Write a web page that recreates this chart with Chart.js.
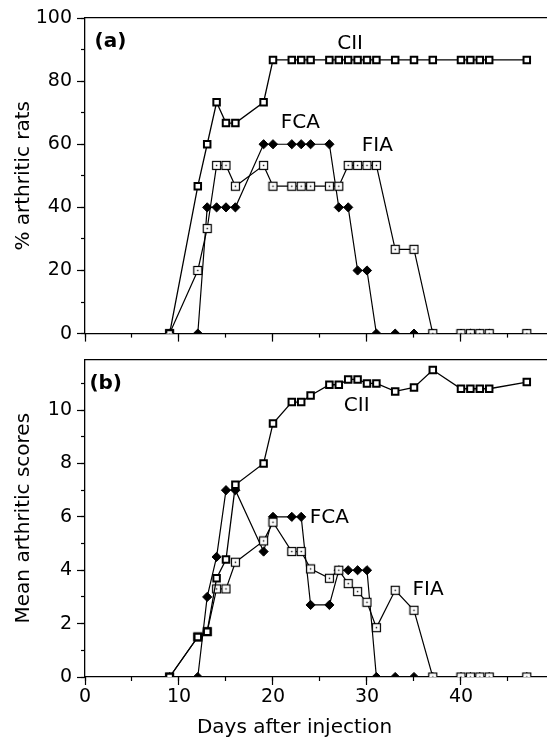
<!DOCTYPE html>
<html>
<head>
<meta charset="utf-8">
<script src="https://cdn.jsdelivr.net/npm/chart.js@4/dist/chart.umd.min.js"></script>
<style>
  html, body { margin: 0; padding: 0; background: #fff; }
  #page { position: relative; width: 547px; height: 738px; overflow: hidden; }
  .panel { position: absolute; left: 0; width: 547px; }
  #panelA { top: 0; height: 350px; }
  #panelB { top: 343px; height: 395px; }
</style>
</head>
<body>
<div id="page">
  <div class="panel" id="panelA"><canvas id="chartA"></canvas></div>
  <div class="panel" id="panelB"><canvas id="chartB"></canvas></div>
</div>
<script>
// sampling days (days after injection)
const DAYS = [9, 12, 13, 14, 15, 16, 19, 20, 22, 23, 24, 26, 27, 28, 29, 30, 31, 33, 35, 37, 40, 41, 42, 43, 47];

// (a) % arthritic rats
const PCT_CII = [0, 46.7, 60, 73.3, 66.7, 66.7, 73.3, 86.7, 86.7, 86.7, 86.7, 86.7, 86.7, 86.7, 86.7, 86.7, 86.7, 86.7, 86.7, 86.7, 86.7, 86.7, 86.7, 86.7, 86.7];
const PCT_FCA = [0, 0, 40, 40, 40, 40, 60, 60, 60, 60, 60, 60, 40, 40, 20, 20, 0, 0, 0, 0, 0, 0, 0, 0, 0];
const PCT_FIA = [0, 20, 33.3, 53.3, 53.3, 46.7, 53.3, 46.7, 46.7, 46.7, 46.7, 46.7, 46.7, 53.3, 53.3, 53.3, 53.3, 26.7, 26.7, 0, 0, 0, 0, 0, 0];

// (b) mean arthritic scores
const SCORE_CII = [0, 1.5, 1.7, 3.7, 4.4, 7.2, 8.0, 9.5, 10.3, 10.3, 10.55, 10.95, 10.95, 11.15, 11.15, 11.0, 11.0, 10.7, 10.85, 11.5, 10.8, 10.8, 10.8, 10.8, 11.05];
const SCORE_FCA = [0, 0, 3.0, 4.5, 7.0, 7.0, 4.7, 6.0, 6.0, 6.0, 2.7, 2.7, 4.0, 4.0, 4.0, 4.0, 0, 0, 0, 0, 0, 0, 0, 0, 0];
const SCORE_FIA = [0, 1.5, 1.7, 3.3, 3.3, 4.3, 5.1, 5.8, 4.7, 4.7, 4.05, 3.7, 4.0, 3.5, 3.2, 2.8, 1.85, 3.25, 2.5, 0, 0, 0, 0, 0, 0];

const X_MAX = 49.15;
const X_MAJOR = 10;
const X_MINOR = 5;
const TICK_FONT = { family: "DejaVu Sans", size: 19 };
const TITLE_FONT = { family: "DejaVu Sans", size: 20 };

// panel texts, placed in data coordinates
const TEXT_A = [
  { text: "(a)", day: 2.7, value: 92.6, bold: true },
  { text: "CII", day: 28.2, value: 91.7 },
  { text: "FCA", day: 22.9, value: 66.7 },
  { text: "FIA", day: 31.1, value: 59.5 },
];
const TEXT_B = [
  { text: "(b)", day: 2.2, value: 11.0, bold: true },
  { text: "CII", day: 28.9, value: 10.15 },
  { text: "FCA", day: 26.0, value: 5.96 },
  { text: "FIA", day: 36.5, value: 3.28 },
  { text: "Days after injection", day: 22.3, value: -1.9 },
];

Chart.defaults.font.family = "DejaVu Sans";
Chart.defaults.color = "#000";

function makeDotSquare() {
  const c = document.createElement("canvas");
  c.width = 11;
  c.height = 11;
  const g = c.getContext("2d");
  g.fillStyle = "#fff";
  g.fillRect(1, 1, 9, 9);
  g.strokeStyle = "#000";
  g.lineWidth = 1.2;
  g.strokeRect(1.5, 1.5, 8, 8);
  g.fillStyle = "#000";
  g.fillRect(4.8, 4.8, 1.4, 1.4);
  return c;
}
const DOT_SQUARE = makeDotSquare();

function toPoints(values) {
  return DAYS.map((d, i) => ({ x: d, y: values[i] }));
}

function makeDatasets(cii, fca, fia) {
  return [
    {
      label: "CII",
      data: toPoints(cii),
      borderColor: "#000",
      borderWidth: 1.3,
      pointStyle: "rect",
      pointRadius: 4.6,
      pointBorderWidth: 2,
      pointBackgroundColor: "#fff",
      pointBorderColor: "#000",
    },
    {
      label: "FIA",
      data: toPoints(fia),
      borderColor: "#000",
      borderWidth: 1.2,
      pointStyle: DOT_SQUARE,
      pointRadius: 5,
    },
    {
      label: "FCA",
      data: toPoints(fca),
      borderColor: "#000",
      borderWidth: 1.2,
      pointStyle: "rectRot",
      pointRadius: 4.6,
      pointBorderWidth: 1,
      pointBackgroundColor: "#000",
      pointBorderColor: "#000",
    },
  ];
}

const panelText = {
  id: "panelText",
  afterDatasetsDraw(chart, args, opts) {
    const { ctx } = chart;
    const x = chart.scales.x;
    const y = chart.scales.y;
    ctx.save();
    ctx.fillStyle = "#000";
    ctx.textAlign = "center";
    ctx.textBaseline = "middle";
    for (const t of opts.items) {
      ctx.font = (t.bold ? "bold " : "") + "20px 'DejaVu Sans'";
      ctx.fillText(t.text, x.getPixelForValue(t.day), y.getPixelForValue(t.value));
    }
    ctx.restore();
  },
};

function makeScales(opt) {
  return {
    x: {
      type: "linear",
      position: "bottom",
      weight: 1,
      min: 0,
      max: X_MAX,
      border: { color: "#000", width: 1.3 },
      grid: { drawOnChartArea: false, tickLength: 8, tickColor: "#000", tickWidth: 1.2 },
      ticks: {
        stepSize: X_MAJOR,
        includeBounds: false,
        autoSkip: false,
        maxRotation: 0,
        padding: 1,
        font: TICK_FONT,
        callback: (v) => (opt.xLabels ? v : ""),
      },
      afterFit: (s) => { s.height = opt.xHeight; },
    },
    xm: {
      type: "linear",
      position: "bottom",
      weight: 0,
      min: 0,
      max: X_MAX,
      border: { display: false },
      grid: { drawOnChartArea: false, tickLength: 4, tickColor: "#000", tickWidth: 1.2 },
      ticks: { stepSize: X_MINOR, includeBounds: false, display: false },
      afterFit: (s) => { s.height = 0; },
    },
    xt: {
      type: "linear",
      position: "top",
      min: 0,
      max: X_MAX,
      border: { color: "#000", width: 1.3 },
      grid: { display: false },
      ticks: { display: false },
      afterFit: (s) => { s.height = 0; },
    },
    y: {
      type: "linear",
      position: "left",
      weight: 1,
      min: 0,
      max: opt.yMax,
      border: { color: "#000", width: 1.3 },
      grid: { drawOnChartArea: false, tickLength: 8, tickColor: "#000", tickWidth: 1.2 },
      ticks: {
        stepSize: opt.yMajor,
        includeBounds: false,
        autoSkip: false,
        padding: 5,
        font: TICK_FONT,
      },
      title: {
        display: true,
        text: opt.yTitle,
        font: TITLE_FONT,
        padding: { top: 12, bottom: 0 },
      },
      afterFit: (s) => { s.width = 85; },
    },
    ym: {
      type: "linear",
      position: "left",
      weight: 0,
      min: 0,
      max: opt.yMax,
      border: { display: false },
      grid: { drawOnChartArea: false, tickLength: 4, tickColor: "#000", tickWidth: 1.2 },
      ticks: { stepSize: opt.yMinor, includeBounds: false, display: false },
      afterFit: (s) => { s.width = 0; },
    },
  };
}

function makeChart(canvasId, datasets, scaleOpt, padTop, texts) {
  return new Chart(document.getElementById(canvasId), {
    type: "line",
    data: { datasets: datasets },
    options: {
      responsive: true,
      maintainAspectRatio: false,
      animation: false,
      layout: { autoPadding: false, padding: { top: padTop, left: 0, right: 0, bottom: 0 } },
      elements: { line: { tension: 0, fill: false } },
      plugins: {
        legend: { display: false },
        tooltip: { enabled: false },
        panelText: { items: texts },
      },
      scales: makeScales(scaleOpt),
    },
    plugins: [panelText],
  });
}

makeChart(
  "chartA",
  makeDatasets(PCT_CII, PCT_FCA, PCT_FIA),
  { yMax: 100, yMajor: 20, yMinor: 10, yTitle: "% arthritic rats", xLabels: false, xHeight: 12 },
  18,
  TEXT_A
);

makeChart(
  "chartB",
  makeDatasets(SCORE_CII, SCORE_FCA, SCORE_FIA),
  { yMax: 11.9, yMajor: 2, yMinor: 1, yTitle: "Mean arthritic scores", xLabels: true, xHeight: 61 },
  12,
  TEXT_B
);
</script>
</body>
</html>
